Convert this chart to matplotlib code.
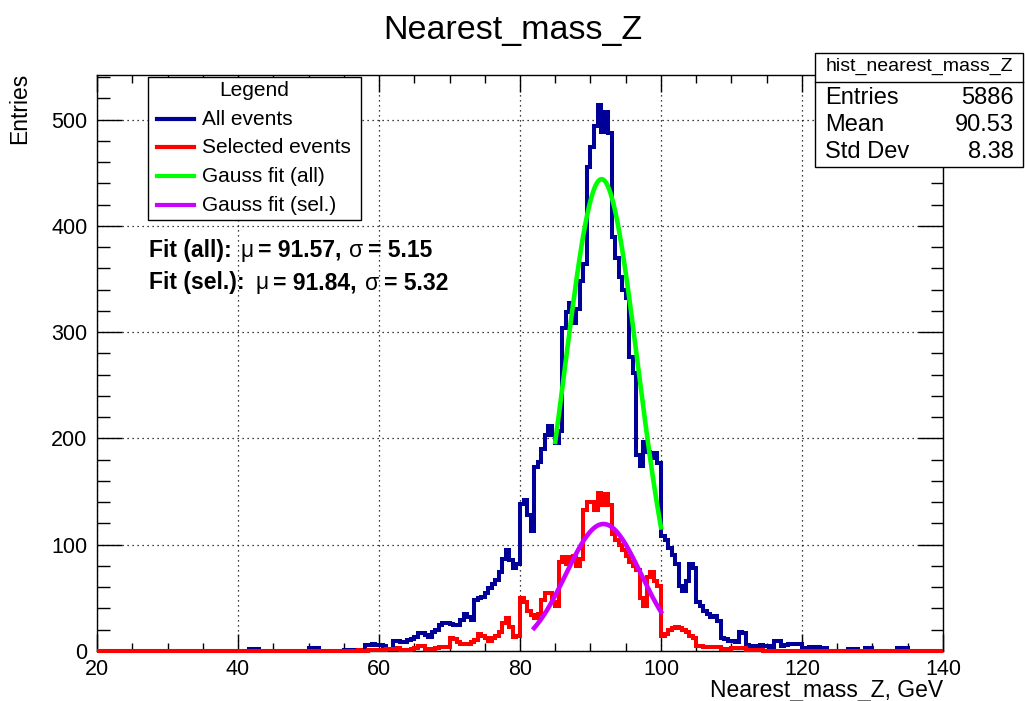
import numpy as np
import matplotlib
matplotlib.use("Agg")
import matplotlib.pyplot as plt
from matplotlib.ticker import MultipleLocator
from matplotlib.patches import Rectangle
from matplotlib.lines import Line2D

plt.rcParams['font.family'] = ['Liberation Sans', 'DejaVu Sans']

# ---------------- data ----------------
title = "Nearest_mass_Z"
x_label = "Nearest_mass_Z, GeV"
y_label = "Entries"
x_range = (20.0, 140.0)
bin_width = 0.5
first_bin = 40.0          # lower edge of first listed bin (all bins below are empty)

all_events = [
    0, 0, 0, 2, 2, 2, 0, 0, 0, 0,
    0, 0, 0, 0, 0, 0, 0, 0, 0, 0,
    3, 3, 3, 0, 0, 0, 0, 0, 0, 0,
    1, 1, 1, 0, 1, 1, 6, 6, 7, 6,
    6, 5, 2, 2, 9, 9, 8, 8, 10, 11,
    13, 17, 17, 15, 13, 18, 20, 24, 26, 26,
    25, 24, 24, 29, 35, 32, 29, 48, 50, 51,
    55, 59, 63, 67, 74, 87, 95, 86, 78, 82,
    138, 142, 128, 113, 173, 178, 190, 203, 212, 203,
    196, 207, 304, 319, 327, 309, 322, 348, 364, 455,
    474, 494, 514, 488, 507, 487, 390, 370, 352, 340,
    332, 277, 262, 184, 174, 197, 187, 182, 186, 177,
    108, 104, 97, 90, 82, 61, 56, 66, 82, 78,
    46, 42, 38, 35, 32, 33, 28, 12, 11, 9,
    9, 8, 18, 17, 6, 5, 5, 5, 6, 5,
    5, 4, 9, 9, 5, 6, 7, 7, 7, 7,
    3, 3, 4, 3, 4, 3, 3, 0, 0, 0,
    0, 0, 0, 2, 2, 2, 0, 0, 3, 3,
    0, 0, 0, 0, 0, 0, 0, 3, 3, 3,
    0, 0,
]

selected_events = [
    0, 0, 0, 0, 0, 0, 0, 0, 0, 0,
    0, 0, 0, 0, 0, 0, 0, 0, 0, 0,
    0, 0, 0, 0, 0, 0, 0, 0, 0, 0,
    0, 0, 0, 0, 1, 0, 0, 1, 1, 1,
    1, 1, 2, 2, 2, 3, 1, 1, 1, 2,
    3, 5, 5, 2, 2, 2, 3, 4, 4, 4,
    12, 11, 8, 7, 7, 7, 8, 10, 16, 14,
    12, 9, 12, 14, 18, 26, 31, 23, 13, 14,
    50, 46, 38, 34, 31, 35, 48, 55, 55, 46,
    42, 84, 88, 82, 88, 89, 80, 87, 133, 140,
    140, 133, 149, 137, 148, 137, 110, 104, 100, 95,
    89, 84, 80, 76, 50, 42, 70, 74, 66, 61,
    14, 16, 20, 22, 23, 22, 20, 18, 14, 12,
    5, 5, 4, 4, 4, 4, 4, 2, 2, 2,
    3, 3, 3, 3, 1, 1, 1, 1, 1, 0,
    0, 0, 0, 0, 0, 0, 0, 0, 0, 0,
    0, 0, 0, 0, 0, 0, 0, 0, 0, 0,
    0, 0, 0, 0, 0, 0, 0, 0, 0, 0,
    0, 0, 0, 0, 0, 0, 0, 0, 0, 0,
    0, 0,
]

# Gaussian fits: amplitude, mean, sigma, fit range
fit_all_amp, fit_all_mu, fit_all_sigma, fit_all_range = 444.0, 91.57, 5.15, (85.0, 100.0)
fit_sel_amp, fit_sel_mu, fit_sel_sigma, fit_sel_range = 119.5, 91.84, 5.32, (82.0, 100.0)

legend_title = "Legend"
legend_labels = ["All events", "Selected events", "Gauss fit (all)", "Gauss fit (sel.)"]

stats_name = "hist_nearest_mass_Z"
stats_labels = ["Entries", "Mean", "Std Dev"]
stats_values = ["5886", "90.53", "8.38"]

# ---------------- styles ----------------
C_ALL = "#000099"
C_SEL = "#ff0000"
C_FIT_ALL = "#00ff00"
C_FIT_SEL = "#cc00ff"

W, H = 1025, 701
fig = plt.figure(figsize=(W / 100, H / 100), dpi=100)
fig.patch.set_facecolor("white")


def fx(px):
    return px / W


def fy(py):
    return 1 - py / H


ax_l, ax_r, ax_t, ax_b = 97, 943, 75, 651
ax = fig.add_axes([fx(ax_l), fy(ax_b), (ax_r - ax_l) / W, (ax_b - ax_t) / H])

# histogram arrays
n_bins = int(round((x_range[1] - x_range[0]) / bin_width))
edges = x_range[0] + bin_width * np.arange(n_bins + 1)
offset = int(round((first_bin - x_range[0]) / bin_width))


def full(vals):
    arr = np.zeros(n_bins)
    arr[offset:offset + len(vals)] = vals
    return arr


h_all = full(all_events)
h_sel = full(selected_events)

ax.stairs(h_all, edges, baseline=None, color=C_ALL, lw=2.9, zorder=3, clip_on=False)
ax.stairs(h_sel, edges, baseline=None, color=C_SEL, lw=2.9, zorder=4, clip_on=False)


def gauss(x, a, m, s):
    return a * np.exp(-0.5 * ((x - m) / s) ** 2)


xa = np.linspace(fit_all_range[0], fit_all_range[1], 300)
ax.plot(xa, gauss(xa, fit_all_amp, fit_all_mu, fit_all_sigma), color=C_FIT_ALL, lw=3.3, zorder=5)
xs = np.linspace(fit_sel_range[0], fit_sel_range[1], 300)
ax.plot(xs, gauss(xs, fit_sel_amp, fit_sel_mu, fit_sel_sigma), color=C_FIT_SEL, lw=3.3, zorder=6)

ax.set_xlim(*x_range)
ax.set_ylim(0, 542)
ax.xaxis.set_major_locator(MultipleLocator(20))
ax.xaxis.set_minor_locator(MultipleLocator(5))
ax.yaxis.set_major_locator(MultipleLocator(100))
ax.yaxis.set_minor_locator(MultipleLocator(20))
ax.tick_params(axis='both', which='both', direction='in', top=True, right=True,
               width=1, color='black', labelsize=15.5)
ax.tick_params(axis='x', which='major', length=12, pad=6)
ax.tick_params(axis='x', which='minor', length=6)
ax.tick_params(axis='y', which='major', length=18, pad=7)
ax.tick_params(axis='y', which='minor', length=9)
ax.grid(True, which='major', color='black', linestyle=(0, (1, 3)), linewidth=0.9)
ax.set_axisbelow(True)
for sp in ax.spines.values():
    sp.set_linewidth(1.0)
    sp.set_color('black')

# titles / labels
fig.text(0.5, fy(30), title, ha='center', va='center', fontsize=24.5)
fig.text(fx(20), fy(73), y_label, rotation=90, ha='center', va='top', fontsize=16.5)
fig.text(fx(943), fy(690), x_label, ha='right', va='center', fontsize=16.5)

# legend (manual, ROOT style)
lg_l, lg_r, lg_t, lg_b = 148, 361, 77, 220
fig.patches.append(Rectangle((fx(lg_l), fy(lg_b)), (lg_r - lg_l) / W, (lg_b - lg_t) / H,
                             transform=fig.transFigure, facecolor='white', edgecolor='black',
                             lw=1.0, zorder=5))
fig.text(fx((lg_l + lg_r) / 2), fy(91), legend_title, ha='center', va='center', fontsize=15, zorder=6)
leg_colors = [C_ALL, C_SEL, C_FIT_ALL, C_FIT_SEL]
leg_y = [119, 147, 176, 205]
for lab, col, yy in zip(legend_labels, leg_colors, leg_y):
    fig.lines.append(Line2D([fx(157), fx(194)], [fy(yy), fy(yy)], transform=fig.transFigure,
                            color=col, lw=3.0, zorder=6))
    fig.text(fx(202), fy(yy + 0.5), lab, ha='left', va='center', fontsize=15, zorder=6)

# fit result texts
renderer = fig.canvas.get_renderer()


def chain(x0, y0, parts):
    cur = x0
    for s, bold, gap in parts:
        t = fig.text(fx(cur), fy(y0), s, ha='left', va='center', fontsize=16.5,
                     fontweight='bold' if bold else 'normal', zorder=6)
        bb = t.get_window_extent(renderer)
        cur = bb.x1 + gap


chain(149, 250, [("Fit (all):", True, 9), ("\u03bc", False, 4),
                 (f"= {fit_all_mu:.2f},", True, 8), ("\u03c3", False, 4),
                 (f"= {fit_all_sigma:.2f}", True, 0)])
chain(149, 283, [("Fit (sel.):", True, 11), ("\u03bc", False, 4),
                 (f"= {fit_sel_mu:.2f},", True, 9), ("\u03c3", False, 4),
                 (f"= {fit_sel_sigma:.2f}", True, 0)])

# stats box
sb_l, sb_r, sb_t, sb_b = 815, 1023, 53, 167
fig.patches.append(Rectangle((fx(sb_l), fy(sb_b)), (sb_r - sb_l) / W, (sb_b - sb_t) / H,
                             transform=fig.transFigure, facecolor='white', edgecolor='black',
                             lw=1.0, zorder=5))
fig.lines.append(Line2D([fx(sb_l), fx(sb_r)], [fy(82), fy(82)], transform=fig.transFigure,
                        color='black', lw=1.0, zorder=6))
fig.text(fx((sb_l + sb_r) / 2), fy(66), stats_name, ha='center', va='center', fontsize=14, zorder=6)
for lab, val, yy in zip(stats_labels, stats_values, [98, 125, 152]):
    fig.text(fx(825), fy(yy), lab, ha='left', va='center', fontsize=17, zorder=6)
    fig.text(fx(1014), fy(yy), val, ha='right', va='center', fontsize=17, zorder=6)

fig.savefig("out.png", dpi=100)
